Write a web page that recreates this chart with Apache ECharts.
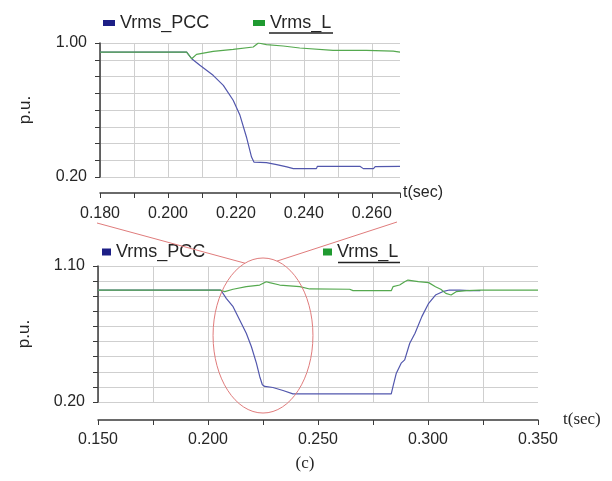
<!DOCTYPE html>
<html>
<head>
<meta charset="utf-8">
<script src="https://cdn.jsdelivr.net/npm/echarts@6/dist/echarts.min.js"></script>
<style>
html,body{margin:0;padding:0;background:#fff;}
#c{width:612px;height:481px;}
</style>
</head>
<body>
<div id="c"></div>
<script>
// ---- data (time in s, value in p.u.) ----
var seriesNames = ['Vrms_PCC', 'Vrms_L'];
var topPcc = [[0.180,0.946],[0.2055,0.946],[0.207,0.906],[0.2094,0.867],[0.2133,0.807],[0.2163,0.747],[0.2192,0.658],[0.2212,0.568],[0.2231,0.439],[0.2246,0.319],[0.2253,0.289],[0.229,0.286],[0.232,0.274],[0.235,0.260],[0.2369,0.250],[0.2437,0.250],[0.244,0.264],[0.2565,0.264],[0.2575,0.250],[0.2605,0.250],[0.261,0.262],[0.2683,0.264]];
var topL = [[0.180,0.946],[0.2055,0.946],[0.207,0.906],[0.2084,0.932],[0.2133,0.950],[0.2192,0.962],[0.2251,0.976],[0.2266,1.000],[0.229,0.990],[0.2339,0.982],[0.2388,0.970],[0.2486,0.956],[0.2584,0.956],[0.2663,0.952],[0.2683,0.946]];
var botPcc = [[0.150,0.941],[0.2058,0.941],[0.2083,0.886],[0.2114,0.831],[0.2144,0.743],[0.2174,0.655],[0.2197,0.567],[0.222,0.457],[0.2235,0.369],[0.2247,0.314],[0.2258,0.303],[0.2295,0.296],[0.2341,0.276],[0.2386,0.254],[0.2833,0.254],[0.2841,0.303],[0.2856,0.391],[0.2878,0.457],[0.2894,0.479],[0.2917,0.589],[0.2941,0.655],[0.2972,0.765],[0.3003,0.853],[0.3034,0.908],[0.3066,0.930],[0.3097,0.941],[0.3144,0.941],[0.3191,0.937],[0.3238,0.937]];
var botL = [[0.150,0.941],[0.2053,0.941],[0.2076,0.930],[0.2114,0.946],[0.2174,0.963],[0.2235,0.974],[0.2265,0.996],[0.228,0.990],[0.2326,0.974],[0.2417,0.963],[0.2462,0.948],[0.2644,0.946],[0.2659,0.937],[0.2833,0.937],[0.2841,0.963],[0.2871,0.974],[0.2894,0.996],[0.2909,1.007],[0.2956,0.996],[0.3003,0.990],[0.3034,0.963],[0.3058,0.946],[0.3081,0.919],[0.3105,0.908],[0.3128,0.930],[0.3175,0.937],[0.3238,0.941],[0.350,0.941]];
var topXRange = [0.18, 0.2683], topXStep = 0.01, topXLabelStep = 20;
var botXRange = [0.15, 0.35], botXStep = 0.025, botXLabelStep = 50;
var topYRange = [0.2, 1.0], botYRange = [0.2, 1.1], yStep = 0.1;
var zoomCenter = [0.225, 0.64], zoomHalf = [0.0227, 0.513];
var panelLabel = '(c)', xName = 't(sec)', yName = 'p.u.';

var SANS = '"Liberation Sans", Arial, sans-serif';
var SERIF = '"Liberation Serif", "Times New Roman", serif';
var blueLine = '#5257ad', greenLine = '#55a94f';
var blueIcon = '#1d1f86', greenIcon = '#1f9a30';
var gridColor = '#cfcfcf', axisColor = '#3a3a3a', textColor = '#262626';

function yAxis(gi, range, gap) {
  return {
    type: 'value', gridIndex: gi, min: range[0], max: range[1], interval: yStep,
    name: yName, nameLocation: 'middle', nameGap: gap,
    nameTextStyle: {fontFamily: SANS, fontSize: 17, color: textColor},
    axisLine: {show: true, onZero: false, lineStyle: {color: axisColor, width: 1.5}},
    axisTick: {show: true, length: 5, lineStyle: {color: axisColor}},
    axisLabel: {margin: 13, fontFamily: SANS, fontSize: 16, color: textColor,
      formatter: function (v) {
        if (Math.abs(v - range[0]) < 1e-6 || Math.abs(v - range[1]) < 1e-6) return v.toFixed(2);
        return '';
      }},
    splitLine: {show: true, lineStyle: {color: gridColor, width: 1}}
  };
}
function xAxis(gi, range, step, labStep, offset, margin, nameStyle, nameGap, showMaxLine) {
  return {
    type: 'value', gridIndex: gi, min: range[0], max: range[1], interval: step, offset: offset,
    name: xName, nameLocation: 'end', nameGap: nameGap, nameTextStyle: nameStyle,
    axisLine: {show: true, onZero: false, lineStyle: {color: axisColor, width: 1.5}},
    axisTick: {show: true, length: 5, lineStyle: {color: axisColor}},
    axisLabel: {margin: margin, fontFamily: SANS, fontSize: 16, color: textColor, showMaxLabel: true,
      formatter: function (v) {
        var m = Math.round(v * 1000);
        if (m % labStep === 0 && v <= range[1] + 1e-9) return v.toFixed(3);
        return '';
      }},
    splitLine: {show: true, showMaxLine: showMaxLine, lineStyle: {color: gridColor, width: 1}}
  };
}
function legend(left, top, name, color, fs, iw, ih) {
  return {
    left: left, top: top, padding: 0, itemWidth: iw, itemHeight: ih, icon: 'rect',
    data: [{name: name, itemStyle: {color: color}}],
    textStyle: {fontFamily: SANS, fontSize: fs, color: textColor, lineHeight: 20},
    selectedMode: false
  };
}
function line(name, gi, data, color, z) {
  return {
    name: name, type: 'line', xAxisIndex: gi, yAxisIndex: gi, data: data,
    showSymbol: false, symbol: 'none', z: z, animation: false,
    lineStyle: {color: color, width: 1.2}, itemStyle: {color: color}
  };
}

var chart = echarts.init(document.getElementById('c'), null, {renderer: 'canvas'});
chart.setOption({
  backgroundColor: '#ffffff',
  animation: false,
  grid: [
    {left: 100, top: 43, width: 300, height: 134},
    {left: 98, top: 266, width: 440, height: 136}
  ],
  legend: [
    legend(103, 13, seriesNames[0], blueIcon, 18, 12, 6),
    legend(253, 13, seriesNames[1], greenIcon, 18, 12, 6),
    legend(102, 242, seriesNames[0], blueIcon, 18, 9, 7),
    legend(323, 242, seriesNames[1], greenIcon, 18, 9, 7)
  ],
  xAxis: [
    xAxis(0, topXRange, topXStep, topXLabelStep, 16, 13, {fontFamily: SANS, fontSize: 16, color: textColor}, 3, false),
    xAxis(1, botXRange, botXStep, botXLabelStep, 18, 12, {fontFamily: SERIF, fontSize: 17, color: textColor}, 25, false)
  ],
  yAxis: [yAxis(0, topYRange, 66), yAxis(1, botYRange, 65)],
  series: [
    line(seriesNames[0], 0, topPcc, blueLine, 2),
    line(seriesNames[1], 0, topL, greenLine, 3),
    line(seriesNames[0], 1, botPcc, blueLine, 2),
    line(seriesNames[1], 1, botL, greenLine, 3)
  ]
});

// annotations: zoom ellipse tied to data coordinates, connector lines, underlines, panel label
var c = chart.convertToPixel({gridIndex: 1}, zoomCenter);
var e = chart.convertToPixel({gridIndex: 1}, [zoomCenter[0] + zoomHalf[0], zoomCenter[1] + zoomHalf[1]]);
var rx = Math.abs(e[0] - c[0]), ry = Math.abs(c[1] - e[1]);
var tl = chart.convertToPixel({gridIndex: 0}, [topXRange[0], topYRange[0]]);
var tr = chart.convertToPixel({gridIndex: 0}, [topXRange[1], topYRange[0]]);
function topOfEllipse(x) { var d = (x - c[0]) / rx; return c[1] - ry * Math.sqrt(Math.max(0, 1 - d * d)); }
var lx = c[0] - 18, rxp = c[0] + 14;
var red = '#e07c7c';
chart.setOption({
  graphic: [
    {type: 'ellipse', shape: {cx: c[0], cy: c[1], rx: rx, ry: ry}, style: {fill: null, stroke: red, lineWidth: 1}, z: 10},
    {type: 'line', shape: {x1: tl[0] - 3, y1: tl[1] + 46, x2: lx, y2: topOfEllipse(lx)}, style: {stroke: red, lineWidth: 1}, z: 10},
    {type: 'line', shape: {x1: tr[0] - 3, y1: tr[1] + 45, x2: rxp, y2: topOfEllipse(rxp)}, style: {stroke: red, lineWidth: 1}, z: 10},
    {type: 'line', shape: {x1: 269, y1: 33, x2: 333, y2: 33}, style: {stroke: '#222', lineWidth: 1.3}, z: 10},
    {type: 'line', shape: {x1: 338, y1: 262.5, x2: 400, y2: 262.5}, style: {stroke: '#222', lineWidth: 1.3}, z: 10},
    {type: 'text', x: 305, y: 464, style: {text: panelLabel, font: '17px ' + SERIF, fill: textColor, textAlign: 'center', textVerticalAlign: 'middle'}, z: 10}
  ]
});
</script>
</body>
</html>
